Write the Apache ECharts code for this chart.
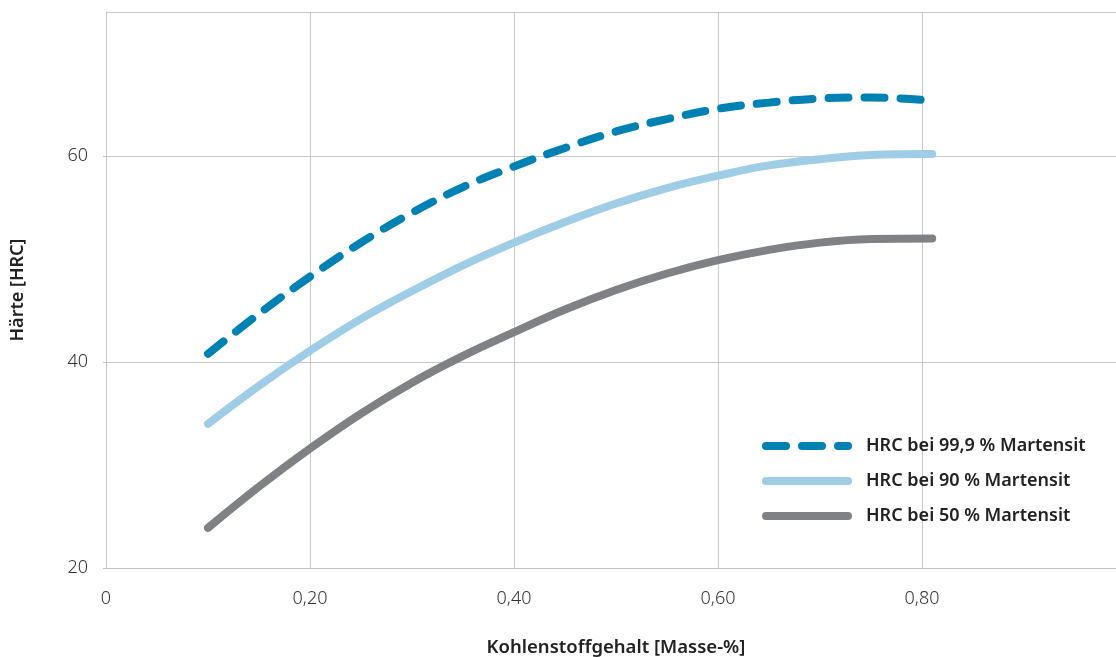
<!DOCTYPE html>
<html>
<head>
<meta charset="utf-8">
<script src="https://cdn.jsdelivr.net/npm/echarts@6/dist/echarts.min.js"></script>
<style>html,body{margin:0;padding:0;background:#fff}#c{width:1116px;height:657px}</style>
</head>
<body>
<div id="c"></div>
<script>
const carbon = [0.10, 0.15, 0.20, 0.25, 0.30, 0.35, 0.40, 0.45, 0.50, 0.55, 0.60, 0.65, 0.70, 0.75, 0.81];
const hrc999 = [40.8, 44.7, 48.3, 51.6, 54.5, 57.0, 59.0, 60.8, 62.4, 63.6, 64.6, 65.2, 65.6, 65.7, 65.4];
const hrc90  = [34.0, 37.7, 41.1, 44.2, 46.9, 49.4, 51.6, 53.6, 55.4, 56.9, 58.1, 59.1, 59.7, 60.1, 60.2];
const hrc50  = [23.9, 27.9, 31.6, 35.0, 38.0, 40.6, 42.9, 45.1, 47.0, 48.6, 49.9, 50.9, 51.6, 51.95, 52.0];
const seriesNames = ['HRC bei 99,9 % Martensit', 'HRC bei 90 % Martensit', 'HRC bei 50 % Martensit'];

const pairs = arr => carbon.map((x, i) => [x, arr[i]]);
const fmt = v => v === 0 ? '0' : v.toFixed(2).replace('.', ',');
const FONT = 'Noto Sans';

const chart = echarts.init(document.getElementById('c'));
chart.setOption({
  animation: false,
  grid: { left: 106, right: -10, top: 12, bottom: 89, outerBoundsMode: 'none', containLabel: false },
  xAxis: {
    type: 'value', min: 0, max: 1.0, interval: 0.2,
    name: 'Kohlenstoffgehalt [Masse-%]', nameLocation: 'middle', nameGap: 70,
    nameTextStyle: { fontFamily: FONT, fontSize: 18.5, fontWeight: 600, color: '#222' },
    axisLine: { show: true, lineStyle: { color: '#c4c4c4', width: 1 } },
    axisTick: { show: false },
    axisLabel: { formatter: fmt, margin: 22, fontFamily: FONT, fontWeight: 300, fontSize: 18, color: '#333', showMaxLabel: false },
    splitLine: { show: true, lineStyle: { color: '#c8c8c8', width: 1 } }
  },
  yAxis: {
    type: 'value', min: 20, max: 74, interval: 20,
    name: 'Härte [HRC]', nameLocation: 'middle', nameGap: 79, nameRotate: 90,
    nameTextStyle: { fontFamily: FONT, fontSize: 18, fontWeight: 600, color: '#222' },
    axisLine: { show: true, lineStyle: { color: '#c4c4c4', width: 1 } },
    axisTick: { show: true, length: 3, lineStyle: { color: '#c4c4c4' } },
    axisLabel: { margin: 18, fontFamily: FONT, fontWeight: 300, fontSize: 18, color: '#333', showMaxLabel: false },
    splitLine: { show: true, lineStyle: { color: '#c8c8c8', width: 1 } }
  },
  legend: {
    orient: 'vertical', left: 757, top: 432,
    itemWidth: 82, itemHeight: 14, itemGap: 17,
    itemStyle: { opacity: 0, borderWidth: 0 },
    lineStyle: { width: 8, cap: 'round' },
    textStyle: { fontFamily: FONT, fontSize: 18, fontWeight: 600, color: '#222', padding: [0, 0, 0, 13] },
    data: seriesNames
  },
  series: [
    { name: seriesNames[0], type: 'line', data: pairs(hrc999), smooth: 0.4, showSymbol: false, symbol: 'none',
      lineStyle: { color: '#0081b4', width: 8, type: [20, 16], cap: 'round' }, itemStyle: { color: '#0081b4' } },
    { name: seriesNames[1], type: 'line', data: pairs(hrc90), smooth: 0.4, showSymbol: false, symbol: 'none',
      lineStyle: { color: '#9ecde5', width: 8, cap: 'round' }, itemStyle: { color: '#9ecde5' } },
    { name: seriesNames[2], type: 'line', data: pairs(hrc50), smooth: 0.4, showSymbol: false, symbol: 'none',
      lineStyle: { color: '#808185', width: 8, cap: 'round' }, itemStyle: { color: '#808185' } }
  ]
});
</script>
</body>
</html>
